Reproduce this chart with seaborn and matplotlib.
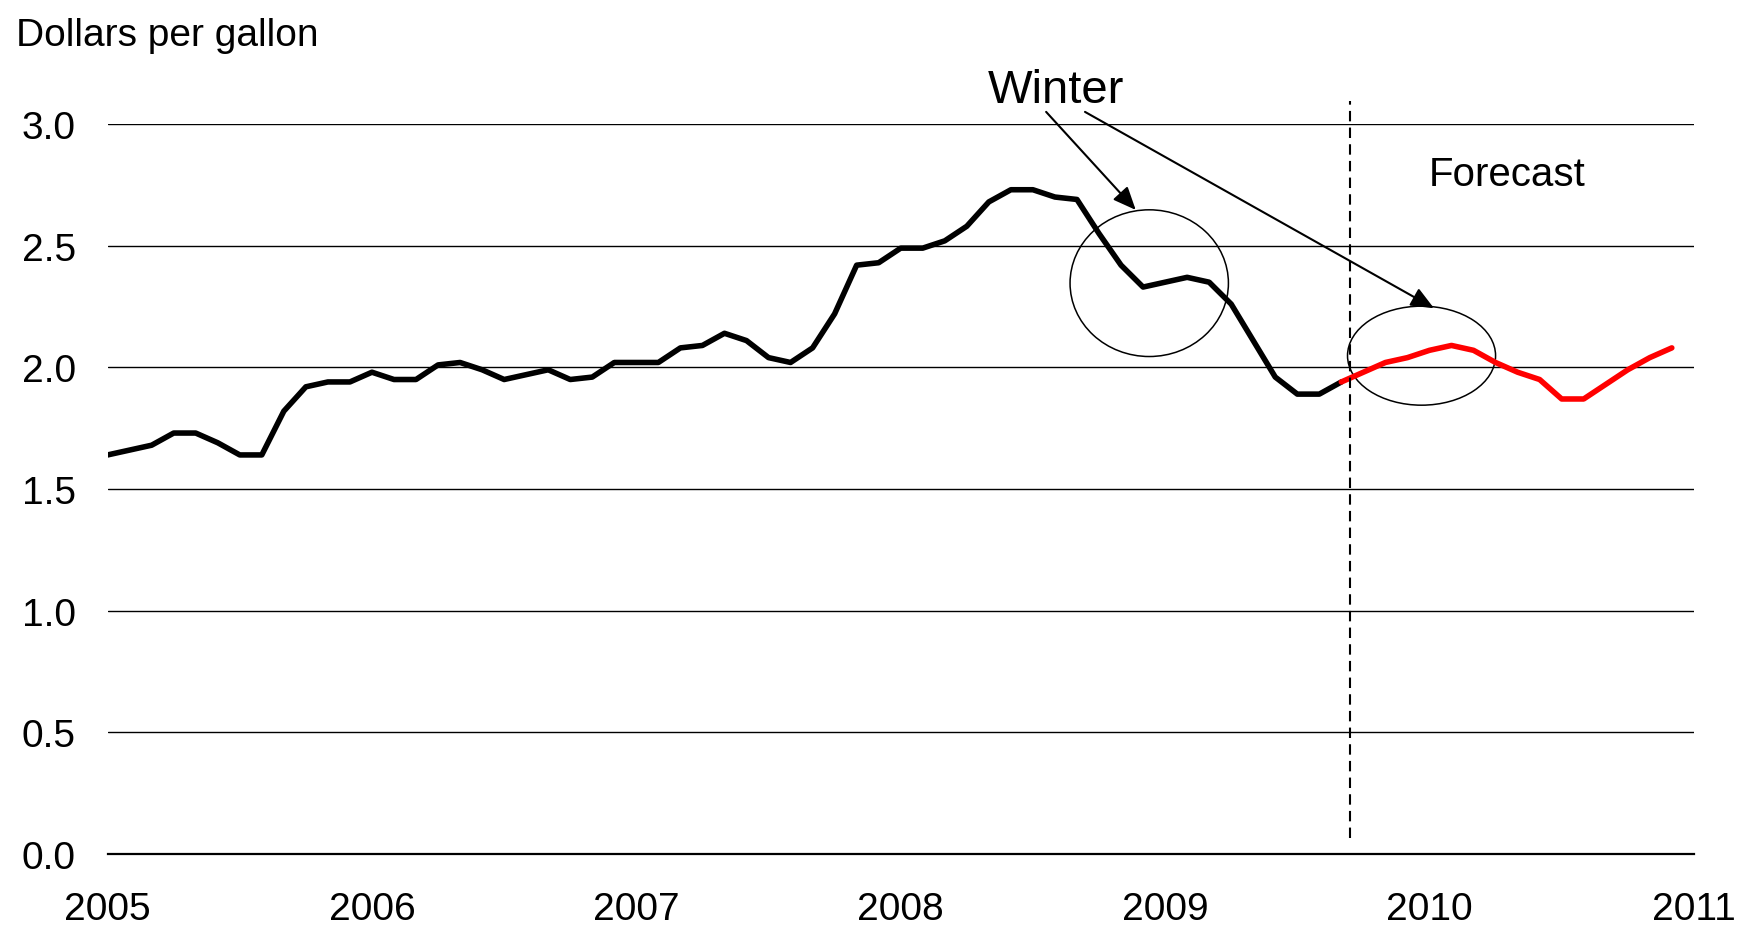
import numpy as np
import pandas as pd
import matplotlib
matplotlib.use("Agg")
import matplotlib.pyplot as plt
from matplotlib.patches import Ellipse
import seaborn as sns

# --- monthly price data (dollars per gallon) ---
# history: Jan 2005 .. Sep 2009
history_prices = [
    1.64, 1.66, 1.68, 1.73, 1.73, 1.69, 1.64, 1.64, 1.82, 1.92, 1.94, 1.94,   # 2005
    1.98, 1.95, 1.95, 2.01, 2.02, 1.99, 1.95, 1.97, 1.99, 1.95, 1.96, 2.02,   # 2006
    2.02, 2.02, 2.08, 2.09, 2.14, 2.11, 2.04, 2.02, 2.08, 2.22, 2.42, 2.43,   # 2007
    2.49, 2.49, 2.52, 2.58, 2.68, 2.73, 2.73, 2.70, 2.69, 2.55, 2.42, 2.33,   # 2008
    2.35, 2.37, 2.35, 2.26, 2.11, 1.96, 1.89, 1.89, 1.94,                      # 2009 Jan-Sep
]
# forecast: Sep 2009 .. Dec 2010
forecast_prices = [
    1.94, 1.98, 2.02, 2.04, 2.07, 2.09, 2.07, 2.02, 1.98, 1.95,
    1.87, 1.87, 1.93, 1.99, 2.04, 2.08,
]
start_year = 2005
forecast_start = 2009 + 8 / 12          # September 2009
year_ticks = [2005, 2006, 2007, 2008, 2009, 2010, 2011]
y_ticks = [0.0, 0.5, 1.0, 1.5, 2.0, 2.5, 3.0]

df_hist = pd.DataFrame({
    "year": start_year + np.arange(len(history_prices)) / 12,
    "price": history_prices,
})
df_fcst = pd.DataFrame({
    "year": forecast_start + np.arange(len(forecast_prices)) / 12,
    "price": forecast_prices,
})

sns.set_theme(style="white")
plt.rcParams["font.family"] = ["Liberation Sans", "DejaVu Sans"]
plt.rcParams.update({"text.color": "black", "xtick.color": "black",
                     "ytick.color": "black", "axes.labelcolor": "black"})

fig = plt.figure(figsize=(17.38, 9.29), dpi=100)
ax = fig.add_axes([0.0619, 0.0797, 0.9127, 0.7857])

sns.lineplot(data=df_hist, x="year", y="price", color="black", linewidth=4.0, ax=ax)
sns.lineplot(data=df_fcst, x="year", y="price", color="#ff0000", linewidth=4.0, ax=ax)

ax.set_xlim(2005, 2011)
ax.set_ylim(0, 3.0)
ax.set_xticks(year_ticks)
ax.set_xticklabels([str(y) for y in year_ticks])
ax.set_yticks(y_ticks)
ax.set_yticklabels([f"{v:.1f}" for v in y_ticks])
ax.set_xlabel("")
ax.set_ylabel("")

ax.yaxis.grid(True, color="black", linewidth=1.0)
ax.xaxis.grid(False)
ax.set_axisbelow(True)
for side in ["left", "right", "top"]:
    ax.spines[side].set_visible(False)
ax.spines["bottom"].set_color("black")
ax.spines["bottom"].set_linewidth(1.6)
ax.tick_params(axis="x", direction="out", length=12, width=1.0, color="black",
               pad=15, labelsize=28, labelcolor="black")
ax.tick_params(axis="y", length=0, pad=23, labelsize=28, labelcolor="black")

# forecast divider
ax.plot([2009.7, 2009.7], [0.066, 3.094], color="black", linewidth=1.5,
        linestyle=(0, (5, 3)), clip_on=False)
ax.text(2010.293, 2.749, "Forecast", fontsize=29, ha="center", va="baseline")

# winter annotations
ax.text(2008.587, 3.090, "Winter", fontsize=34, ha="center", va="baseline")
arrow_kw = dict(arrowstyle="-|>,head_length=0.7,head_width=0.3", color="black",
                lw=1.5, shrinkA=0, shrinkB=0, mutation_scale=20)
ax.annotate("", xy=(2008.889, 2.647), xytext=(2008.55, 3.05),
            arrowprops=arrow_kw, annotation_clip=False)
ax.annotate("", xy=(2010.017, 2.243), xytext=(2008.697, 3.05),
            arrowprops=arrow_kw, annotation_clip=False)
ax.add_patch(Ellipse((2008.94, 2.346), 0.599, 0.603, fill=False,
                     edgecolor="black", linewidth=1.1))
ax.add_patch(Ellipse((2009.97, 2.048), 0.560, 0.407, fill=False,
                     edgecolor="black", linewidth=1.1))

fig.text(0.009, 0.9505, "Dollars per gallon", fontsize=28, ha="left", va="baseline")

fig.savefig("out.png", dpi=100)
